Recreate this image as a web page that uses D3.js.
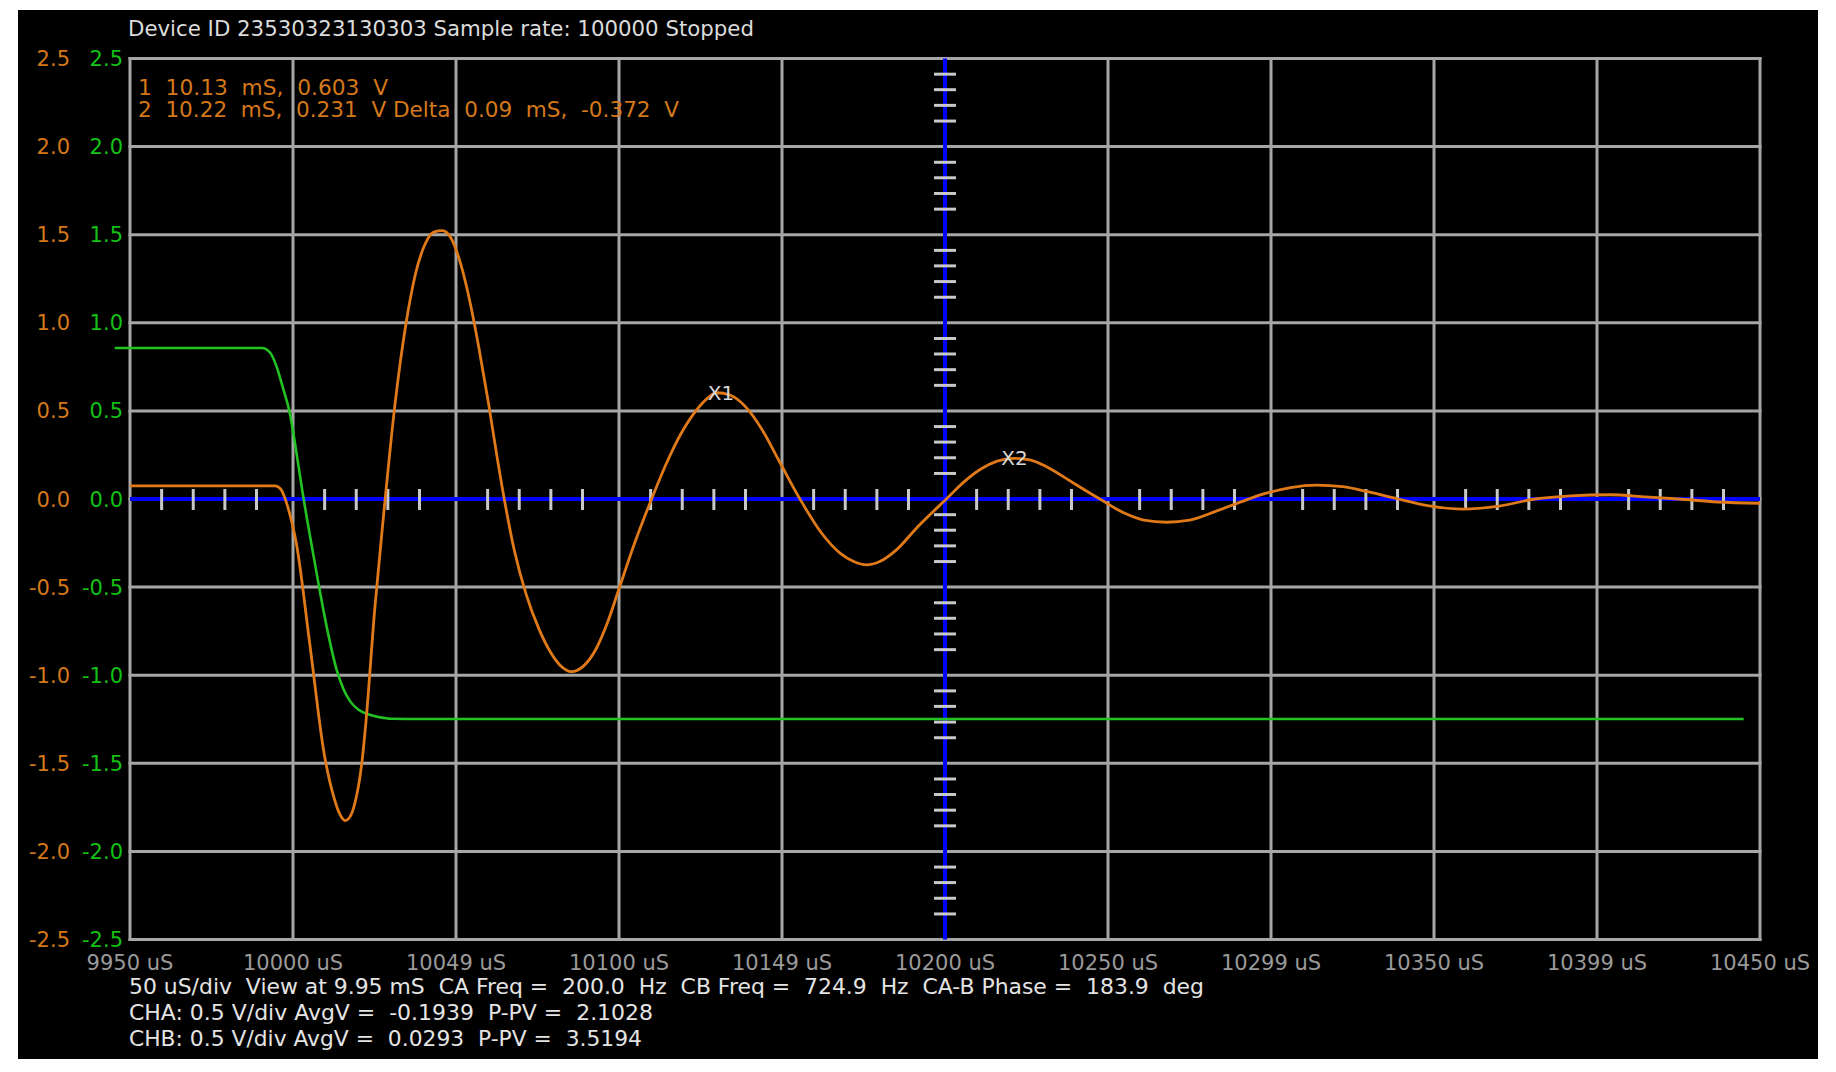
<!DOCTYPE html>
<html>
<head>
<meta charset="utf-8">
<script src="https://cdn.jsdelivr.net/npm/d3@7"></script>
<style>
html,body{margin:0;padding:0;background:#ffffff;}
svg{display:block;}
text{font-family:"DejaVu Sans","Liberation Sans",sans-serif;white-space:pre;}
</style>
</head>
<body>
<svg id="chart" width="1836" height="1072"></svg>
<script>
// ---------- data ----------
const titleText = "Device ID 23530323130303 Sample rate: 100000 Stopped";
const cursorLines = ["1  10.13  mS,  0.603  V", "2  10.22  mS,  0.231  V Delta  0.09  mS,  -0.372  V"];
const cursorWidths = [250, 541];
const infoLines = [
  "50 uS/div  View at 9.95 mS  CA Freq =  200.0  Hz  CB Freq =  724.9  Hz  CA-B Phase =  183.9  deg",
  "CHA: 0.5 V/div AvgV =  -0.1939  P-PV =  2.1028",
  "CHB: 0.5 V/div AvgV =  0.0293  P-PV =  3.5194"
];
const infoWidths = [1075, 524, 513];

const xGridValues = [9950, 10000, 10050, 10100, 10150, 10200, 10250, 10300, 10350, 10400, 10450];
const xTickLabels = ["9950 uS", "10000 uS", "10049 uS", "10100 uS", "10149 uS", "10200 uS",
                     "10250 uS", "10299 uS", "10350 uS", "10399 uS", "10450 uS"];
const yGridValues = [2.5, 2.0, 1.5, 1.0, 0.5, 0.0, -0.5, -1.0, -1.5, -2.0, -2.5];
const yTickLabels = ["2.5", "2.0", "1.5", "1.0", "0.5", "0.0", "-0.5", "-1.0", "-1.5", "-2.0", "-2.5"];
const xMinorOffsets = [9.7, 19.4, 29.1, 38.8];      // uS after each grid line
const yMinorOffsets = [0.089, 0.177, 0.266, 0.355]; // V below each grid line

// channel A (green)
const chATime = [9945.3, 9970, 9990.5, 9993, 9995, 9997, 9999, 10001, 10003, 10005.5, 10008,
  10010.5, 10013.4, 10015.5, 10017.6, 10020, 10023, 10026.5, 10030, 10040, 10445];
const chAVolts = [0.857, 0.857, 0.857, 0.83, 0.75, 0.625, 0.49, 0.27, 0.03, -0.24, -0.50,
  -0.74, -0.97, -1.08, -1.15, -1.195, -1.222, -1.238, -1.247, -1.249, -1.249];

// channel B (orange)
const chBTime = [9950, 9975, 9994.5, 9996.3, 9998.4, 10001.1, 10005.2, 10009.6, 10012.5, 10014.4,
  10016, 10017.6, 10019.2, 10021.1, 10022.3, 10025.1, 10027.8, 10031.3, 10034.7, 10037.6,
  10040.6, 10043.2, 10045.8, 10048.5, 10051.5, 10054.5, 10057, 10060, 10062.5, 10064.8,
  10068, 10071.5, 10075.5, 10079, 10082, 10085.4, 10089, 10093, 10096.5, 10100,
  10105, 10110, 10114.5, 10119, 10124, 10127, 10130, 10134, 10139, 10144,
  10149, 10155.5, 10162, 10168, 10172, 10175.8, 10180, 10185, 10191.5, 10200.4,
  10206, 10211, 10216, 10221, 10226, 10231, 10239, 10247.5, 10255, 10261,
  10268, 10275, 10283, 10291, 10298, 10306, 10314, 10322, 10330, 10339,
  10348, 10359, 10370, 10381, 10392, 10404, 10415, 10425, 10437, 10450];
const chBVolts = [0.075, 0.075, 0.075, 0.055, -0.045, -0.26, -0.83, -1.45, -1.69, -1.79,
  -1.825, -1.80, -1.71, -1.50, -1.28, -0.62, -0.09, 0.54, 1.0, 1.28,
  1.45, 1.515, 1.523, 1.48, 1.33, 1.10, 0.86, 0.54, 0.25, 0.0,
  -0.30, -0.54, -0.74, -0.87, -0.945, -0.98, -0.95, -0.85, -0.70, -0.51,
  -0.24, 0.0, 0.20, 0.37, 0.51, 0.57, 0.603, 0.59, 0.52, 0.39,
  0.22, 0.0, -0.19, -0.31, -0.355, -0.374, -0.355, -0.29, -0.16, 0.0,
  0.10, 0.17, 0.215, 0.231, 0.222, 0.185, 0.095, 0.0, -0.08, -0.12,
  -0.132, -0.12, -0.07, -0.015, 0.03, 0.065, 0.079, 0.07, 0.04, 0.0,
  -0.037, -0.057, -0.04, 0.0, 0.018, 0.024, 0.012, 0.0, -0.017, -0.024];

const markerLabels = ["X1", "X2"];
const markerTimes = [10130, 10220];
const markerVolts = [0.603, 0.231];

// ---------- drawing ----------
const svg = d3.select("#chart");
const x = d3.scaleLinear().domain([9950, 10450]).range([130, 1760]);
const y = d3.scaleLinear().domain([-2.5, 2.5]).range([939.5, 58.5]);

const C = {
  bg: "#000000", grid: "#a6a6a6", axis: "#0000ff", tick: "#c8c8c8",
  orange: "#e07a18", green: "#22c322", orangeText: "#d4781a", greenText: "#14c014",
  title: "#dcdcdc", info: "#e4e4e4", xlab: "#9a9a9a", marker: "#d8d8d8"
};

svg.append("rect").attr("x", 18).attr("y", 10).attr("width", 1800).attr("height", 1049).attr("fill", C.bg);

const [yBot, yTop] = y.range();
const [xL, xR] = x.range();

// grid
const grid = svg.append("g").attr("stroke", C.grid).attr("stroke-width", 3);
grid.selectAll("line.v").data(xGridValues).join("line").attr("class", "v")
  .attr("x1", d => x(d)).attr("x2", d => x(d)).attr("y1", yTop - 1.5).attr("y2", yBot + 1.5);
grid.selectAll("line.h").data(yGridValues).join("line").attr("class", "h")
  .attr("y1", d => y(d)).attr("y2", d => y(d)).attr("x1", xL - 1.5).attr("x2", xR + 1.5);

// blue axes
svg.append("line").attr("x1", xL).attr("x2", xR).attr("y1", y(0)).attr("y2", y(0))
  .attr("stroke", C.axis).attr("stroke-width", 4);
svg.append("line").attr("x1", x(10200)).attr("x2", x(10200)).attr("y1", yTop).attr("y2", yBot)
  .attr("stroke", C.axis).attr("stroke-width", 4);

// minor ticks
const xMinor = [];
xGridValues.slice(0, -1).forEach(g => xMinorOffsets.forEach(o => xMinor.push(g + o)));
const yMinor = [];
yGridValues.slice(0, -1).forEach(g => yMinorOffsets.forEach(o => yMinor.push(g - o)));
const ticks = svg.append("g").attr("stroke", C.tick).attr("stroke-width", 3);
ticks.selectAll("line.xt").data(xMinor).join("line").attr("class", "xt")
  .attr("x1", d => x(d)).attr("x2", d => x(d)).attr("y1", y(0) - 10).attr("y2", y(0) + 11);
ticks.selectAll("line.yt").data(yMinor).join("line").attr("class", "yt")
  .attr("y1", d => y(d)).attr("y2", d => y(d)).attr("x1", x(10200) - 11).attr("x2", x(10200) + 11);

// traces
const line = d3.line().x(d => x(d[0])).y(d => y(d[1])).curve(d3.curveMonotoneX);
svg.append("path").datum(d3.zip(chATime, chAVolts)).attr("d", line)
  .attr("fill", "none").attr("stroke", C.green).attr("stroke-width", 2.6);
svg.append("path").datum(d3.zip(chBTime, chBVolts)).attr("d", line)
  .attr("fill", "none").attr("stroke", C.orange).attr("stroke-width", 2.8);

// markers
svg.append("g").selectAll("text").data(d3.zip(markerLabels, markerTimes, markerVolts)).join("text")
  .attr("x", d => x(d[1]) - 9).attr("y", d => y(d[2]) + 7)
  .attr("font-size", 20).attr("fill", C.marker).text(d => d[0]);

// title
svg.append("text").attr("x", 128).attr("y", 36).attr("font-size", 21).attr("fill", C.title)
  .attr("textLength", 626).attr("lengthAdjust", "spacingAndGlyphs").text(titleText);

// cursor readout
svg.append("g").selectAll("text").data(cursorLines).join("text")
  .attr("x", 138).attr("y", (d, i) => 95 + i * 22).attr("font-size", 21).attr("fill", C.orangeText)
  .attr("textLength", (d, i) => cursorWidths[i]).attr("lengthAdjust", "spacingAndGlyphs").text(d => d);

// y labels (two columns)
const ylab = svg.append("g").attr("font-size", 21).attr("text-anchor", "end");
ylab.selectAll("text.o").data(yGridValues).join("text").attr("class", "o")
  .attr("x", 70).attr("y", d => y(d) + 7.5).attr("fill", C.orangeText)
  .text((d, i) => yTickLabels[i]);
ylab.selectAll("text.g").data(yGridValues).join("text").attr("class", "g")
  .attr("x", 123).attr("y", d => y(d) + 7.5).attr("fill", C.greenText)
  .text((d, i) => yTickLabels[i]);

// x labels
svg.append("g").attr("font-size", 21).attr("text-anchor", "middle")
  .selectAll("text").data(xGridValues).join("text")
  .attr("x", d => x(d)).attr("y", 970).attr("fill", C.xlab)
  .text((d, i) => xTickLabels[i]);

// info lines
svg.append("g").selectAll("text").data(infoLines).join("text")
  .attr("x", 129).attr("y", (d, i) => [993.5, 1019.5, 1046][i]).attr("font-size", 21).attr("fill", C.info)
  .attr("textLength", (d, i) => infoWidths[i]).attr("lengthAdjust", "spacingAndGlyphs").text(d => d);
</script>
</body>
</html>
